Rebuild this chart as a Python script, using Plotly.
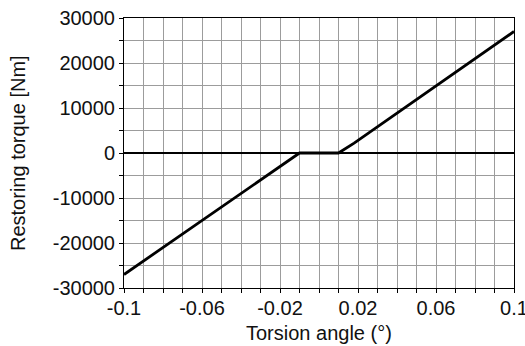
import plotly.graph_objects as go

angle = [-0.1, -0.01, 0.01, 0.018, 0.1]
torque = [-27000, 0, 0, 2200, 27000]

x_tickvals = [-0.1, -0.06, -0.02, 0.02, 0.06, 0.1]
x_ticktext = ["-0.1", "-0.06", "-0.02", "0.02", "0.06", "0.1"]
y_tickvals = [-30000, -20000, -10000, 0, 10000, 20000, 30000]
y_ticktext = ["-30000", "-20000", "-10000", "0", "10000", "20000", "30000"]

fig = go.Figure()
fig.add_trace(go.Scatter(x=angle, y=torque, mode="lines",
                         line=dict(color="black", width=2.8), showlegend=False))

font = dict(family="Liberation Sans, Arial, sans-serif", size=20, color="#111")

fig.update_layout(
    width=525, height=346,
    margin=dict(l=124, r=11, t=18, b=58),
    paper_bgcolor="white", plot_bgcolor="white",
    font=font,
    xaxis=dict(
        range=[-0.1, 0.1], tickvals=x_tickvals, ticktext=x_ticktext,
        showgrid=True, gridcolor="#9c9c9c", gridwidth=1,
        ticks="outside", ticklen=4, tickcolor="black",
        minor=dict(tick0=-0.1, dtick=0.01, showgrid=True, gridcolor="#9c9c9c",
                   gridwidth=1, ticks="outside", ticklen=4, tickcolor="black"),
        showline=True, linecolor="black", linewidth=1, mirror=True,
        zeroline=False, automargin=False, ticklabeloverflow="allow",
        ticklabelstandoff=-2,
        tickfont=font,
    ),
    yaxis=dict(
        range=[-30000, 30000], tickvals=y_tickvals, ticktext=y_ticktext,
        showgrid=True, gridcolor="#9c9c9c", gridwidth=1,
        ticks="outside", ticklen=4, tickcolor="black",
        minor=dict(tick0=-30000, dtick=5000, showgrid=True, gridcolor="#9c9c9c",
                   gridwidth=1, ticks="outside", ticklen=4, tickcolor="black"),
        showline=True, linecolor="black", linewidth=1, mirror=True,
        zeroline=True, zerolinecolor="black", zerolinewidth=1.5,
        automargin=False, ticklabeloverflow="allow",
        tickfont=font,
    ),
    annotations=[
        dict(text="Torsion angle (°)", xref="paper", yref="paper",
             x=0.5, y=0, yshift=-45, xanchor="center", yanchor="middle",
             showarrow=False, font=font),
        dict(text="Restoring torque [Nm]", xref="paper", yref="paper",
             x=0, y=0.5, xshift=-106, xanchor="center", yanchor="middle",
             textangle=-90, showarrow=False, font=font),
    ],
)

fig.write_html("out.html", config={"displayModeBar": False},
               post_script="document.body.style.margin='0px';document.body.style.overflow='hidden';")
